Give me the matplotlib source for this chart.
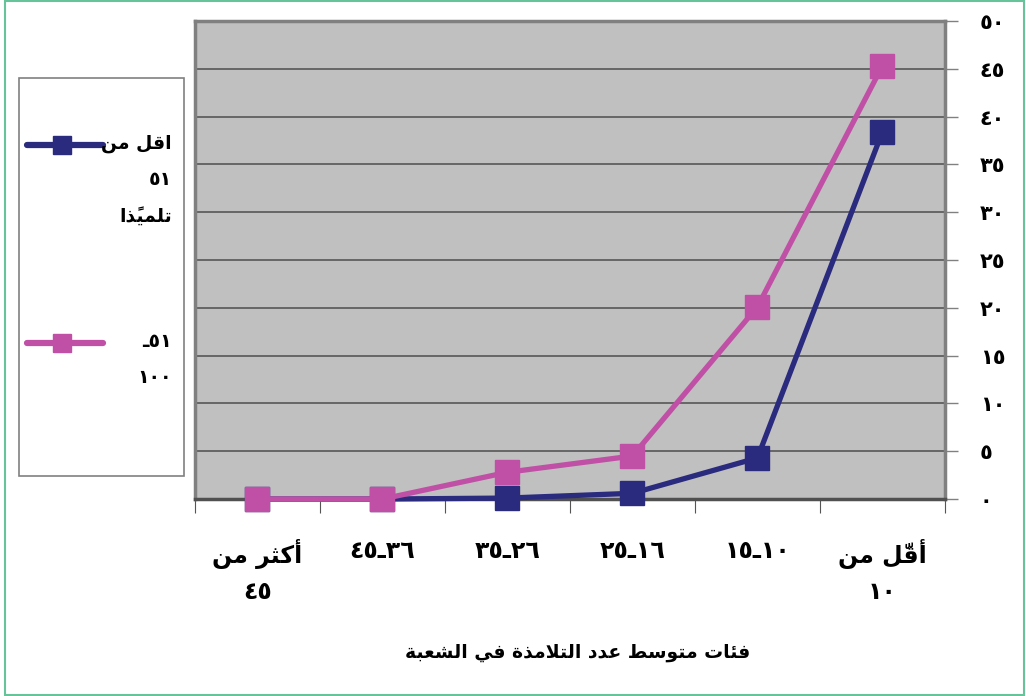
import matplotlib
matplotlib.use('Agg')
import matplotlib.pyplot as plt
from matplotlib.lines import Line2D
from matplotlib.patches import Rectangle

# categories in reading order (right to left on the chart)
categories = ['أقلّ من\n١٠', '١٠ـ١٥', '١٦ـ٢٥', '٢٦ـ٣٥', '٣٦ـ٤٥', 'أكثر من\n٤٥']
under_51 = [38.4, 4.3, 0.6, 0.1, 0, 0]
from_51_100 = [45.3, 20.1, 4.5, 2.8, 0, 0]
series_labels = ['اقل من\n٥١\nتلميذًا', '٥١ـ\n١٠٠']
y_ticks = [0, 5, 10, 15, 20, 25, 30, 35, 40, 45, 50]
y_labels = ['٠', '٥', '١٠', '١٥', '٢٠', '٢٥', '٣٠', '٣٥', '٤٠', '٤٥', '٥٠']
x_title = 'فئات متوسط عدد التلامذة في الشعبة'

NAVY = '#2a2a7e'
PINK = '#c04fa6'

# --- minimal arabic shaping (presentation forms + visual order) ---
FORMS = {
    'ا': ('\ufe8d', '\ufe8e'), 'أ': ('\ufe83', '\ufe84'),
    'د': ('\ufea9', '\ufeaa'), 'ذ': ('\ufeab', '\ufeac'),
    'ر': ('\ufead', '\ufeae'), 'و': ('\ufeed', '\ufeee'),
    'ة': ('\ufe93', '\ufe94'),
    'ب': ('\ufe8f', '\ufe90', '\ufe91', '\ufe92'),
    'ت': ('\ufe95', '\ufe96', '\ufe97', '\ufe98'),
    'ث': ('\ufe99', '\ufe9a', '\ufe9b', '\ufe9c'),
    'ئ': ('\ufe89', '\ufe8a', '\ufe8b', '\ufe8c'),
    'س': ('\ufeb1', '\ufeb2', '\ufeb3', '\ufeb4'),
    'ش': ('\ufeb5', '\ufeb6', '\ufeb7', '\ufeb8'),
    'ط': ('\ufec1', '\ufec2', '\ufec3', '\ufec4'),
    'ع': ('\ufec9', '\ufeca', '\ufecb', '\ufecc'),
    'ف': ('\ufed1', '\ufed2', '\ufed3', '\ufed4'),
    'ق': ('\ufed5', '\ufed6', '\ufed7', '\ufed8'),
    'ك': ('\ufed9', '\ufeda', '\ufedb', '\ufedc'),
    'ل': ('\ufedd', '\ufede', '\ufedf', '\ufee0'),
    'م': ('\ufee1', '\ufee2', '\ufee3', '\ufee4'),
    'ن': ('\ufee5', '\ufee6', '\ufee7', '\ufee8'),
    'ي': ('\ufef1', '\ufef2', '\ufef3', '\ufef4'),
    'لا': ('\ufefb', '\ufefc'), 'لأ': ('\ufef7', '\ufef8'),
}
MARKS = '\u064b\u064c\u064d\u064e\u064f\u0650\u0651\u0652'


def shape_line(line):
    units = []
    for ch in line:
        if ch in MARKS and units:
            units[-1][1] += ch
        elif ch in 'اأ' and units and units[-1][0] == 'ل' and not units[-1][1]:
            units[-1][0] += ch
        else:
            units.append([ch, ''])
    runs = []
    for i, (base, marks) in enumerate(units):
        f = FORMS.get(base)
        if f is None:
            txt, digit = base, base.isdigit()
        else:
            prev = units[i - 1][0] if i else None
            nxt = units[i + 1][0] if i + 1 < len(units) else None
            jp = prev in FORMS and len(FORMS[prev]) == 4
            jn = len(f) == 4 and nxt in FORMS
            idx = 3 if (jp and jn) else 1 if jp else 2 if jn else 0
            txt, digit = f[idx] + marks, False
        if digit and runs and runs[-1][1]:
            runs[-1][0] += txt
        else:
            runs.append([txt, digit])
    return ''.join(r[0] for r in reversed(runs))


def ar(text):
    return '\n'.join(shape_line(l) for l in text.split('\n'))


plt.rcParams['font.family'] = ['DejaVu Sans']
plt.rcParams['font.weight'] = 'bold'

fig = plt.figure(figsize=(10.26, 6.96), dpi=100)
ax = fig.add_axes([0.19, 0.283, 0.731, 0.687])
ax.set_facecolor('#c0c0c0')

x = list(range(len(categories)))
ax.plot(x, under_51, color=NAVY, lw=3.8, marker='s', ms=17, zorder=3, clip_on=False)
ax.plot(x, from_51_100, color=PINK, lw=3.8, marker='s', ms=17, zorder=4, clip_on=False)

ax.set_xlim(-0.5, len(categories) - 0.5)
ax.invert_xaxis()
ax.set_ylim(0, 50)

ax.yaxis.tick_right()
ax.set_yticks(y_ticks)
ax.set_yticklabels(y_labels, fontsize=15, fontweight='bold')
ax.tick_params(axis='y', length=9, width=1, color='#808080', pad=16)
ax.grid(axis='y', color='#666666', lw=1.4)
ax.set_axisbelow(True)

# boundary ticks between categories, labels centred on categories
ax.set_xticks([i - 0.5 for i in range(len(categories) + 1)])
ax.set_xticklabels([])
ax.set_xticks(x, minor=True)
ax.set_xticklabels([ar(c) for c in categories], minor=True, fontsize=17,
                   fontweight='bold', linespacing=1.55)
ax.tick_params(axis='x', which='major', length=10, color='#555555')
ax.tick_params(axis='x', which='minor', length=0, pad=29)

for side in ['top', 'right', 'left']:
    ax.spines[side].set_color('#808080')
    ax.spines[side].set_linewidth(2.5)
ax.spines['bottom'].set_color('#505050')
ax.spines['bottom'].set_linewidth(2.5)

fig.text(0.563, 0.063, ar(x_title), ha='center', va='center', fontsize=13.5,
         fontweight='bold')

# legend box on the left
fig.add_artist(Rectangle((19 / 1026, 1 - 476 / 696), 165 / 1026, 398 / 696,
                         transform=fig.transFigure, fill=False,
                         edgecolor='#808080', lw=1.2))
for color, label, yc in [(NAVY, series_labels[0], 145), (PINK, series_labels[1], 343)]:
    yf = 1 - yc / 696
    fig.add_artist(Line2D([27 / 1026, 103 / 1026], [yf, yf], transform=fig.transFigure,
                          color=color, lw=4.5, solid_capstyle='round'))
    fig.add_artist(Line2D([62 / 1026], [yf], transform=fig.transFigure, color=color,
                          marker='s', ms=13))
    fig.text(172 / 1026, yf + 0.016, ar(label), ha='right', va='top', fontsize=13.5,
             fontweight='bold', multialignment='right', linespacing=2.15)

# outer frame
fig.add_artist(Rectangle((5 / 1026, 1 / 696), 1019 / 1026, 694 / 696,
                         transform=fig.transFigure, fill=False,
                         edgecolor='#66c39a', lw=1.5))

fig.savefig('out.png', dpi=100)
